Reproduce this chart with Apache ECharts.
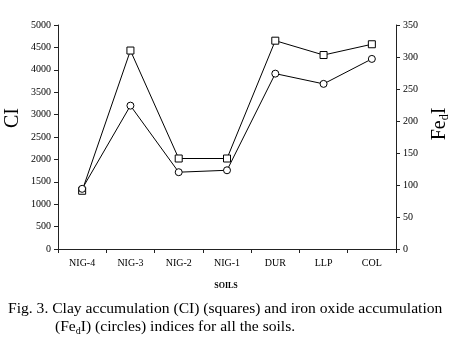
<!DOCTYPE html>
<html><head><meta charset="utf-8">
<script src="https://cdn.jsdelivr.net/npm/echarts@6/dist/echarts.min.js"></script>
<style>html,body{margin:0;padding:0;background:#fff}#c{width:453px;height:355px}</style>
</head><body><div id="c"></div>
<script>
const categories = ['NIG-4','NIG-3','NIG-2','NIG-1','DUR','LLP','COL'];
const ciValues = [1300, 4430, 2020, 2020, 4650, 4330, 4570];
const fedValues = [94, 224, 120, 123, 274, 258, 297];
const leftTicks = {min:0, max:5000, interval:500};
const rightTicks = {min:0, max:350, interval:50};

const serif = '"Liberation Serif", "Times New Roman", serif';
const axisColor = '#222';
const chart = echarts.init(document.getElementById('c'), null, {renderer:'canvas'});
chart.setOption({
  animation:false,
  backgroundColor:'#fff',
  grid:{left:58, right:57, top:25, bottom:106, containLabel:false},
  xAxis:{
    type:'category', data:categories, boundaryGap:true,
    axisLine:{lineStyle:{color:axisColor, width:1}},
    axisTick:{show:true, inside:false, length:4, lineStyle:{color:axisColor}},
    axisLabel:{fontFamily:serif, fontSize:10, color:'#000', margin:9, interval:0},
    splitLine:{show:false}
  },
  yAxis:[
    {type:'value', min:leftTicks.min, max:leftTicks.max, interval:leftTicks.interval, position:'left',
     axisLine:{show:true, lineStyle:{color:axisColor}},
     axisTick:{show:true, length:4, lineStyle:{color:axisColor}},
     axisLabel:{fontFamily:serif, fontSize:10, color:'#000', margin:7, formatter:v => String(v)},
     splitLine:{show:false}},
    {type:'value', min:rightTicks.min, max:rightTicks.max, interval:rightTicks.interval, position:'right',
     axisLine:{show:true, lineStyle:{color:axisColor}},
     axisTick:{show:true, length:4, lineStyle:{color:axisColor}},
     axisLabel:{fontFamily:serif, fontSize:10, color:'#000', margin:7, formatter:v => String(v)},
     splitLine:{show:false}}
  ],
  series:[
    {name:'CI', type:'line', yAxisIndex:0, data:ciValues, symbol:'rect', symbolSize:7,
     lineStyle:{color:'#000', width:1}, itemStyle:{color:'#fff', borderColor:'#000', borderWidth:1}},
    {name:'FedI', type:'line', yAxisIndex:1, data:fedValues, symbol:'circle', symbolSize:7,
     lineStyle:{color:'#000', width:1}, itemStyle:{color:'#fff', borderColor:'#000', borderWidth:1}}
  ],
  graphic:[
    {type:'text', x:13, y:118, rotation:Math.PI/2,
     style:{text:'CI', fontFamily:serif, fontSize:20, fill:'#000', textAlign:'center', textVerticalAlign:'middle'}},
    {type:'text', x:440, y:124, rotation:Math.PI/2,
     style:{text:'{b|Fe}{s|d}{b|I}', fontFamily:serif, fontSize:20, fill:'#000', textAlign:'center', textVerticalAlign:'middle',
       rich:{b:{fontFamily:serif, fontSize:20, fill:'#000'}, s:{fontFamily:serif, fontSize:12, fill:'#000', padding:[10,0,0,0]}}}},
    {type:'text', x:226, y:286,
     style:{text:'SOILS', fontFamily:serif, fontSize:8, fontWeight:'bold', fill:'#000', textAlign:'center', textVerticalAlign:'middle'}},
    {type:'text', x:8, y:309,
     style:{text:'Fig. 3. Clay accumulation (CI) (squares) and iron oxide accumulation', fontFamily:serif, fontSize:15.6, fill:'#000', textAlign:'left', textVerticalAlign:'middle'}},
    {type:'text', x:55, y:327,
     style:{text:'{n|(Fe}{s|d}{n|I) (circles) indices for all the soils.}', fontFamily:serif, fontSize:15.6, fill:'#000', textAlign:'left', textVerticalAlign:'middle',
       rich:{n:{fontFamily:serif, fontSize:15.6, fill:'#000'}, s:{fontFamily:serif, fontSize:10, fill:'#000', padding:[8,0,0,0]}}}}
  ]
});
</script></body></html>
